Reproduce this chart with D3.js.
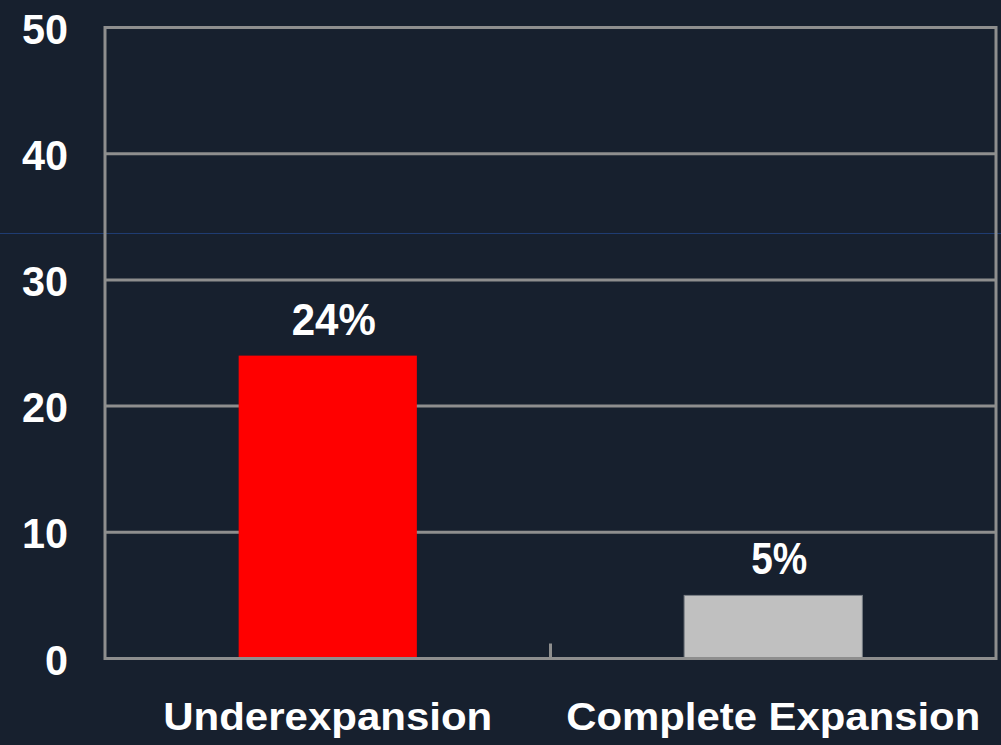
<!DOCTYPE html>
<html>
<head>
<meta charset="utf-8">
<script src="https://cdn.jsdelivr.net/npm/d3@7"></script>
<style>
  html, body { margin: 0; padding: 0; background: #17202e; }
  svg { display: block; }
  text { font-family: "Liberation Sans", Arial, sans-serif; font-weight: bold; fill: #ffffff; }
</style>
</head>
<body>
<script>
// Chart data
const categories = ["Underexpansion", "Complete Expansion"];
const values = [24, 5];
const valueLabels = ["24%", "5%"];
const barColors = ["#ff0000", "#c0c0c0"];
const yTicks = [0, 10, 20, 30, 40, 50];

const W = 1001, H = 745;
const plot = { left: 105, right: 996, top: 27.5, bottom: 658.5 };

const svg = d3.select("body").append("svg")
  .attr("width", W).attr("height", H);

svg.append("rect").attr("width", W).attr("height", H).attr("fill", "#17202e");
// faint horizontal seam across the backdrop
svg.append("line")
  .attr("x1", 0).attr("x2", W).attr("y1", 233.5).attr("y2", 233.5)
  .attr("stroke", "#1f3c72").attr("stroke-width", 1);

const x = d3.scaleBand()
  .domain(categories)
  .range([plot.left, plot.right])
  .paddingInner(0.6)
  .paddingOuter(0.3);

const y = d3.scaleLinear()
  .domain([0, 50])
  .range([plot.bottom, plot.top]);

const gridColor = "#8e8e8e";

// horizontal gridlines
svg.append("g").selectAll("line")
  .data(yTicks.filter(t => t > 0 && t < 50))
  .join("line")
  .attr("x1", plot.left).attr("x2", plot.right)
  .attr("y1", d => y(d)).attr("y2", d => y(d))
  .attr("stroke", gridColor).attr("stroke-width", 3);

// bars
svg.append("g").selectAll("rect")
  .data(values)
  .join("rect")
  .attr("x", (d, i) => x(categories[i]))
  .attr("width", x.bandwidth())
  .attr("y", d => y(d))
  .attr("height", d => y(0) - y(d))
  .attr("fill", (d, i) => barColors[i])
  .attr("stroke", (d, i) => i === 1 ? "#7a7f86" : "none")
  .attr("stroke-width", 1);

// plot frame
svg.append("rect")
  .attr("x", plot.left).attr("y", plot.top)
  .attr("width", plot.right - plot.left)
  .attr("height", plot.bottom - plot.top)
  .attr("fill", "none")
  .attr("stroke", gridColor).attr("stroke-width", 3);

// category divider tick on the baseline (boundary between bands)
const step = x.step();
const boundary = d => x(d) - step * x.paddingInner() / 2;
svg.append("g").selectAll("line")
  .data(categories.slice(1))
  .join("line")
  .attr("x1", boundary)
  .attr("x2", boundary)
  .attr("y1", plot.bottom - 15).attr("y2", plot.bottom)
  .attr("stroke", gridColor).attr("stroke-width", 3);

// y tick labels
svg.append("g").selectAll("text")
  .data(yTicks)
  .join("text")
  .attr("x", 68)
  .attr("y", d => y(d) + 16)
  .attr("text-anchor", "end")
  .attr("font-size", 43)
  .attr("textLength", d => String(d).length * 23)
  .attr("lengthAdjust", "spacingAndGlyphs")
  .text(d => d);

// value labels above bars
svg.append("g").selectAll("text")
  .data(values)
  .join("text")
  .attr("x", (d, i) => x(categories[i]) + x.bandwidth() / 2 + 6)
  .attr("y", d => y(d) - 21)
  .attr("text-anchor", "middle")
  .attr("font-size", 44)
  .attr("textLength", (d, i) => valueLabels[i].length * 28)
  .attr("lengthAdjust", "spacingAndGlyphs")
  .text((d, i) => valueLabels[i]);

// category labels
svg.append("g").selectAll("text")
  .data(categories)
  .join("text")
  .attr("x", d => x(d) + x.bandwidth() / 2)
  .attr("y", 730)
  .attr("text-anchor", "middle")
  .attr("font-size", 38)
  .attr("textLength", (d, i) => i === 0 ? 329 : 414)
  .attr("lengthAdjust", "spacingAndGlyphs")
  .text(d => d);
</script>
</body>
</html>
